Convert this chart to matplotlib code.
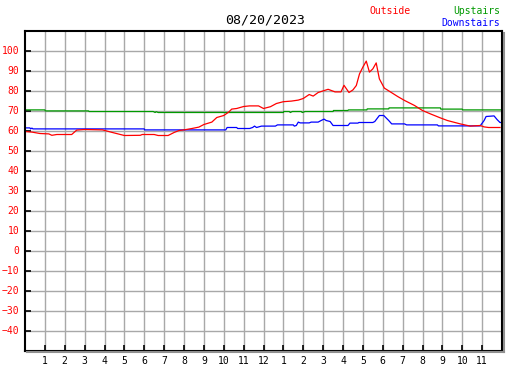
import matplotlib
matplotlib.use("Agg")
import matplotlib.pyplot as plt
from matplotlib.lines import Line2D

# ---- data (hours since midnight, temperature F) ----
title = "08/20/2023"

out_hours = [0, 0.35, 0.75, 1.2, 1.35, 1.6, 2.35, 2.6, 3.0, 3.9, 4.4, 4.8, 5.0, 5.8, 5.9,
             6.5, 6.7, 7.2, 7.5, 7.75, 8.0, 8.4, 8.75, 9.0, 9.4, 9.65, 10.0, 10.25, 10.4,
             10.65, 11.0, 11.3, 11.75, 12.0, 12.35, 12.65, 13.0, 13.4, 13.75, 14.0, 14.3,
             14.5, 14.75, 15.0, 15.25, 15.6, 15.9, 16.05, 16.3, 16.5, 16.67, 16.83, 17.0,
             17.17, 17.33, 17.5, 17.67, 17.83, 18.08, 18.4, 18.75, 19.1, 19.6, 20.0, 20.4,
             20.9, 21.25, 21.9, 22.4, 22.9, 23.1, 23.33, 23.9]
out_temp = [59.5, 59.2, 58.5, 58.3, 57.6, 58, 58, 60.2, 60.5, 60.3, 59, 58, 57.5, 57.6, 58,
            58, 57.5, 57.5, 59, 60, 60.3, 61, 61.7, 63, 64.2, 66.5, 67.5, 69.2, 70.7,
            71, 72, 72.3, 72.3, 71, 71.9, 73.5, 74.4, 74.7, 75.2, 76, 78,
            77.2, 79, 79.8, 80.6, 79.3, 79.3, 82.6, 79, 80.3, 82.5, 88.3, 91.7,
            94.7, 89.2, 90.8, 93.8, 85.8, 81.2, 79.2, 77, 75, 72.5, 70, 68.3,
            66.3, 65, 63.3, 62.2, 62.5, 61.8, 61.5, 61.5]

up_hours = [0, 1.0, 1.02, 3.2, 3.22, 6.45, 6.55, 6.6, 6.7, 13.0, 13.02, 13.3, 13.35, 13.45,
            13.9, 13.95, 14.1, 15.5, 15.52, 16.25, 16.27, 17.2, 17.22, 18.3, 18.32, 20.9,
            20.92, 22.0, 22.02, 24.0]
up_temp = [70.3, 70.3, 69.8, 69.8, 69.5, 69.5, 69.0, 69.4, 69.0, 69.0, 69.5, 69.5, 69.0, 69.5,
           69.5, 69.0, 69.5, 69.5, 70.0, 70.0, 70.3, 70.3, 70.8, 70.8, 71.3, 71.3,
           70.7, 70.7, 70.3, 70.3]

down_hours = [0, 0.25, 0.28, 0.35, 0.4, 6.0, 6.02, 10.1, 10.17, 10.65, 10.7, 11.3, 11.45,
              11.55, 11.65, 11.9, 12.6, 12.7, 13.5, 13.55, 13.65, 13.75, 13.85, 14.3, 14.4,
              14.75, 14.9, 15.05, 15.15, 15.35, 15.5, 16.25, 16.35, 16.75, 16.8, 17.5, 17.6,
              17.83, 18.05, 18.3, 18.45, 19.1, 19.2, 20.75, 20.8, 22.9, 23.1, 23.2, 23.6,
              23.75, 23.9, 24.0]
down_temp = [61.3, 61.3, 60.8, 61.2, 60.8, 60.8, 60.3, 60.3, 61.5, 61.5, 61.0, 61.0, 61.5,
             62.2, 61.5, 62.2, 62.2, 62.8, 62.8, 62.2, 62.5, 64.2, 63.8, 63.8, 64.2,
             64.2, 65.0, 65.7, 65.0, 64.5, 62.5, 62.5, 63.7, 63.7, 64.0, 64.0, 64.5,
             67.5, 67.5, 65.0, 63.3, 63.3, 62.8, 62.8, 62.3, 62.3, 65.0, 67.0, 67.3,
             65.5, 64.0, 64.0]

hour_labels = [str(h) for h in range(1, 12)] + ["12"] + [str(h) for h in range(1, 12)]
y_ticks = list(range(-40, 101, 10))

W, H = 527, 370
plt.rcParams["font.family"] = ["DejaVu Sans Mono"]

fig = plt.figure(figsize=(W / 100, H / 100), dpi=100)
ax = fig.add_axes([25 / W, 19.5 / H, 477 / W, 320 / H])

# drop shadow right & bottom
shadow = "#909090"
fig.add_artist(Line2D([27 / W, 503.5 / W], [1 - 352 / H, 1 - 352 / H], color=shadow, lw=1.5))
fig.add_artist(Line2D([503.5 / W, 503.5 / W], [1 - 33 / H, 1 - 352 / H], color=shadow, lw=1.5))

ax.plot(up_hours, up_temp, color="#009900", lw=0.9, zorder=3)
ax.plot(down_hours, down_temp, color="#0000ff", lw=0.9, zorder=3)
ax.plot(out_hours, out_temp, color="#ff0000", lw=0.9, zorder=4)

ax.set_xlim(0, 24)
ax.set_ylim(-50, 110)

ax.set_xticks(range(1, 24))
ax.set_xticklabels(hour_labels)
ax.set_yticks(y_ticks)

# grid lines every hour / every 10 degrees
for h in range(1, 24):
    ax.axvline(h, color="#a8a8a8", lw=1.0, zorder=0)
for v in range(-40, 110, 10):
    ax.axhline(v, color="#a8a8a8", lw=1.0, zorder=0)

ax.tick_params(axis="x", direction="in", length=4, width=1.2, pad=4, labelsize=7, colors="black")
ax.tick_params(axis="y", direction="in", length=4, width=1.2, pad=4, labelsize=7,
               labelcolor="#ff0000", color="black")
for sp in ax.spines.values():
    sp.set_linewidth(1.5)
    sp.set_color("black")
    sp.set_zorder(5)

fig.text(265 / W, 1 - 20 / H, title, ha="center", va="center", fontsize=9.5, color="black")
fig.text(369 / W, 1 - 11 / H, "Outside", ha="left", va="center", fontsize=7, color="#ff0000")
fig.text(500 / W, 1 - 11 / H, "Upstairs", ha="right", va="center", fontsize=7, color="#009900")
fig.text(500 / W, 1 - 23 / H, "Downstairs", ha="right", va="center", fontsize=7, color="#0000ff")

fig.savefig("out.png", dpi=100, facecolor="white")
